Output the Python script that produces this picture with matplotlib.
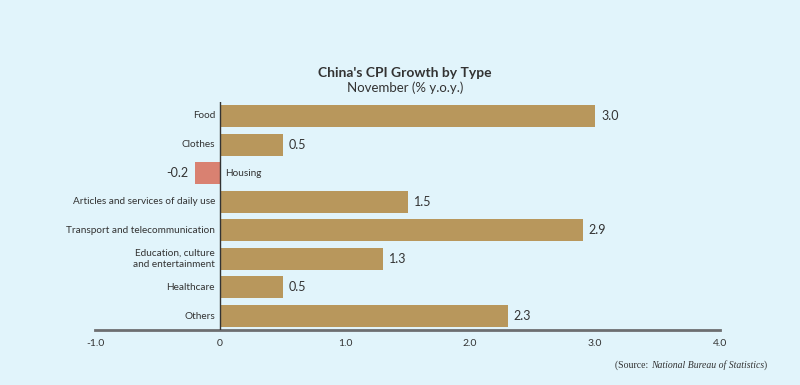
import numpy as np
import matplotlib.pyplot as plt

categories = ["Food", "Clothes", "Housing", "Articles and services of daily use",
              "Transport and telecommunication", "Education, culture\nand entertainment",
              "Healthcare", "Others"]
values = [3.0, 0.5, -0.2, 1.5, 2.9, 1.3, 0.5, 2.3]
xticks = [-1.0, 0, 1.0, 2.0, 3.0, 4.0]
xtick_labels = ["-1.0", "0", "1.0", "2.0", "3.0", "4.0"]

bg = "#e1f4fb"
pos_color = "#b8975c"
neg_color = "#d98171"

plt.rcParams['font.family'] = ['Lato', 'DejaVu Sans']

fig = plt.figure(figsize=(8, 3.85), dpi=100, facecolor=bg)
ax = fig.add_axes([95 / 800, 1 - 330.3 / 385, 625 / 800, 228.6 / 385])
ax.set_facecolor(bg)

y = np.arange(len(categories))
colors = [neg_color if v < 0 else pos_color for v in values]
ax.barh(y, values, height=0.77, color=colors, zorder=2)

ax.set_xlim(-1.0, 4.0)
ax.set_ylim(len(categories) - 0.5, -0.5)

for s in ["top", "right", "left"]:
    ax.spines[s].set_visible(False)
ax.spines["bottom"].set_color("#6d6e70")
ax.spines["bottom"].set_linewidth(2)
ax.axvline(0, color="#333333", lw=1, zorder=3)

ax.set_yticks([])
ax.set_xticks(xticks)
ax.set_xticklabels(xtick_labels, fontsize=7.5, color="#333333")
ax.tick_params(axis="x", length=0, pad=6)

for i, (cat, v) in enumerate(zip(categories, values)):
    if v < 0:
        ax.text(0.04, i, cat, ha="left", va="center", fontsize=7.2, color="#333333")
        ax.text(v - 0.05, i, f"{v:.1f}", ha="right", va="center", fontsize=9, color="#333333")
    else:
        ax.text(-0.04, i, cat, ha="right", va="center", fontsize=7.2, color="#333333",
                linespacing=1.3)
        ax.text(v + 0.05, i, f"{v:.1f}", ha="left", va="center", fontsize=9, color="#333333")

fig.text(405 / 800, 1 - 73 / 385, "China's CPI Growth by Type", ha="center", va="center",
         fontsize=10, fontweight="bold", color="#333333")
fig.text(405 / 800, 1 - 88 / 385, "November (% y.o.y.)", ha="center", va="center",
         fontsize=9.5, color="#333333")

# source line: roman / italic / roman pieces placed right to left
sy = 1 - 365 / 385
t = fig.text(767 / 800, sy, ")", ha="right", va="center", fontsize=7,
             family="Liberation Serif", color="#333333")
fig.canvas.draw()
r = fig.canvas.get_renderer()
bb = t.get_window_extent(r)
t2 = fig.text(bb.x0 / 800, sy, "National Bureau of Statistics", ha="right",
              va="center", fontsize=7, family="Liberation Serif", style="italic", color="#333333")
bb2 = t2.get_window_extent(r)
fig.text(bb2.x0 / 800, sy, "(Source: ", ha="right", va="center", fontsize=7,
         family="Liberation Serif", color="#333333")

fig.savefig("out.png", dpi=100, facecolor=bg)
